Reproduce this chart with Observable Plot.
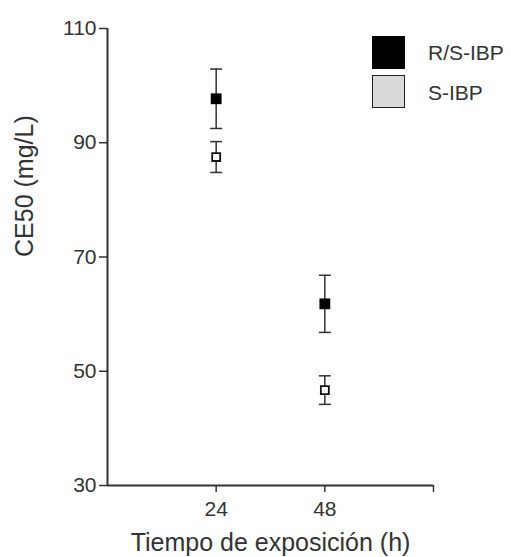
<!DOCTYPE html>
<html><head><meta charset="utf-8">
<script src="https://cdn.jsdelivr.net/npm/d3@7"></script>
<script src="https://cdn.jsdelivr.net/npm/@observablehq/plot@0.6"></script>
<style>
body{margin:0;background:#fff;}
#wrap{position:relative;width:511px;height:557px;font-family:"Liberation Sans",Arial,sans-serif;}
.box{position:absolute;width:33px;height:33px;box-sizing:border-box;}
.lt{position:absolute;font-size:21px;color:#333;line-height:24px;height:24px;}
</style></head>
<body><div id="wrap"></div>
<script>
const times = [24, 48];
const series = ["R/S-IBP", "S-IBP"];
const rsMean = [97.7, 61.8];
const rsErr = [5.2, 5.0];
const sMean = [87.5, 46.7];
const sErr = [2.7, 2.5];
const yTicks = [30, 50, 70, 90, 110];
const xTicks = [24, 48, 72];

const rows = [];
times.forEach((t, i) => {
  rows.push({t, s: series[0], m: rsMean[i], lo: rsMean[i] - rsErr[i], hi: rsMean[i] + rsErr[i]});
  rows.push({t, s: series[1], m: sMean[i], lo: sMean[i] - sErr[i], hi: sMean[i] + sErr[i]});
});
const caps = rows.flatMap(r => [{t: r.t, v: r.lo}, {t: r.t, v: r.hi}]);
const capSymbol = {draw(ctx, size) { const r = Math.sqrt(size / Math.PI); ctx.moveTo(-r, 0); ctx.lineTo(r, 0); }};
const ink = "#333";

const plot = Plot.plot({
  width: 511, height: 557,
  marginLeft: 107, marginRight: 78, marginTop: 28, marginBottom: 72,
  style: {fontFamily: '"Liberation Sans", Arial, sans-serif', color: ink, background: "#fff"},
  x: {domain: [0, 72]},
  y: {domain: [30, 110]},
  marks: [
    Plot.axisY({ticks: yTicks, tickSize: 8, tickPadding: 3, fontSize: 21, label: null, stroke: ink, strokeWidth: 1.5}),
    Plot.axisX({ticks: xTicks, tickSize: 7, tickPadding: 9, fontSize: 21, label: null, stroke: ink, strokeWidth: 1.5,
      tickFormat: d => d === 72 ? "" : String(d)}),
    Plot.ruleX([0], {stroke: ink, strokeWidth: 2}),
    Plot.ruleY([30], {stroke: ink, strokeWidth: 2}),
    Plot.ruleX(rows, {x: "t", y1: "lo", y2: "hi", stroke: ink, strokeWidth: 1.5}),
    Plot.dot(caps, {x: "t", y: "v", symbol: capSymbol, r: 6, stroke: ink, strokeWidth: 1.5, fill: "none"}),
    Plot.dot(rows.filter(r => r.s === series[0]), {x: "t", y: "m", symbol: "square", r: 6.1, fill: "#000", stroke: "none"}),
    Plot.dot(rows.filter(r => r.s === series[1]), {x: "t", y: "m", symbol: "square", r: 4.5, fill: "#fff", stroke: "#111", strokeWidth: 1.8}),
    Plot.text(["CE50 (mg/L)"], {frameAnchor: "left", dx: -83, rotate: -90, fontSize: 25, fill: ink, lineAnchor: "middle"}),
    Plot.text(["Tiempo de exposición (h)"], {frameAnchor: "bottom", dy: 57, fontSize: 25, fill: ink, lineAnchor: "middle"})
  ]
});
const wrap = document.getElementById("wrap");
wrap.appendChild(plot);
const lgColors = [{fill: "#000", stroke: "#000"}, {fill: "#d9d9d9", stroke: "#222"}];
series.forEach((s, i) => {
  const b = document.createElement("div");
  b.className = "box";
  b.style.left = "372px"; b.style.top = (36 + i * 39) + "px";
  b.style.background = lgColors[i].fill; b.style.border = "1.5px solid " + lgColors[i].stroke;
  wrap.appendChild(b);
  const t = document.createElement("div");
  t.className = "lt"; t.textContent = s;
  t.style.left = "428px"; t.style.top = (41 + i * 40) + "px";
  wrap.appendChild(t);
});
</script></body></html>
